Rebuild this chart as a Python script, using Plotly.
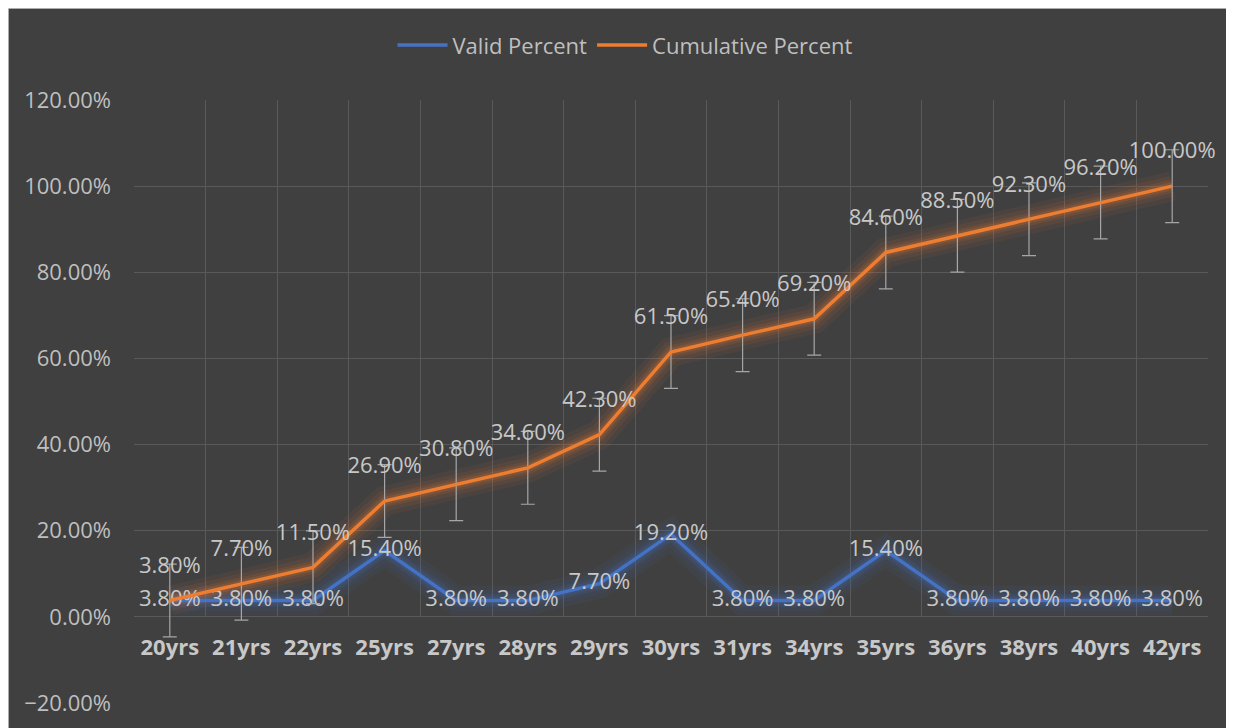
import plotly.graph_objects as go

# data
ages = ["20yrs", "21yrs", "22yrs", "25yrs", "27yrs", "28yrs", "29yrs", "30yrs",
        "31yrs", "34yrs", "35yrs", "36yrs", "38yrs", "40yrs", "42yrs"]
valid_pct = [0.038, 0.038, 0.038, 0.154, 0.038, 0.038, 0.077, 0.192,
             0.038, 0.038, 0.154, 0.038, 0.038, 0.038, 0.038]
cumulative_pct = [0.038, 0.077, 0.115, 0.269, 0.308, 0.346, 0.423, 0.615,
                  0.654, 0.692, 0.846, 0.885, 0.923, 0.962, 1.000]
cumulative_err = 0.0845
y_tick_vals = [-0.2, 0.0, 0.2, 0.4, 0.6, 0.8, 1.0, 1.2]
grid_vals = [0.0, 0.2, 0.4, 0.6, 0.8, 1.0, 1.2]

BLUE = "#4472C4"
ORANGE = "#ED7D31"
BG = "#404040"
GRID = "#595959"
TXT = "#bfbfbf"
LBL = "#c8c8c8"
FONT = "Open Sans"
FS = 22

W, H = 1234, 728
# the page adds an 8px body margin, so the figure sits 8px right/down
M = dict(l=126, r=34, t=92, b=33)
y_range = [-0.2, 1.2]
plot_h = H - M["t"] - M["b"]
plot_w = W - M["l"] - M["r"]
zero_pos = (0 - y_range[0]) / (y_range[1] - y_range[0])
grid_len = round(plot_h * (1 - zero_pos))

fig = go.Figure()

# soft glow under the lines (drawn on the lower y axis)
for vals, rgb in ((valid_pct, "68,114,196"), (cumulative_pct, "237,125,49")):
    for width, alpha in ((30, 0.06), (21, 0.08), (13, 0.12), (8, 0.16)):
        fig.add_trace(go.Scatter(
            x=ages, y=vals, mode="lines", yaxis="y",
            line=dict(color=f"rgba({rgb},{alpha})", width=width),
            showlegend=False, hoverinfo="skip",
        ))

fig.add_trace(go.Scatter(
    x=ages, y=valid_pct, mode="lines+text", name="Valid Percent", yaxis="y2",
    line=dict(color=BLUE, width=3.5), cliponaxis=False,
    texttemplate="%{y:.2%}", textposition="middle center",
    textfont=dict(color=LBL, size=FS, family=FONT),
))
fig.add_trace(go.Scatter(
    x=ages, y=cumulative_pct, mode="lines+markers+text", name="Cumulative Percent",
    yaxis="y2", cliponaxis=False,
    line=dict(color=ORANGE, width=3.5),
    marker=dict(size=34, color="rgba(0,0,0,0)", line=dict(width=0)),
    texttemplate="%{y:.2%}", textposition="top center",
    textfont=dict(color=LBL, size=FS, family=FONT),
    error_y=dict(type="constant", value=cumulative_err, color="#a6a6a6",
                 thickness=1.2, width=7),
))

# thin light frame around the chart
fig.add_shape(
    type="rect", xref="paper", yref="paper", layer="below",
    x0=(0 - M["l"]) / plot_w, x1=(W + 20 - M["l"]) / plot_w,
    y0=-(M["b"] + 20) / plot_h, y1=1 + M["t"] / plot_h,
    fillcolor="rgba(0,0,0,0)", line=dict(color="#d0d0d0", width=1.5),
)

fig.update_layout(
    width=W, height=H, margin=M,
    paper_bgcolor=BG, plot_bgcolor="rgba(0,0,0,0)",
    font=dict(family=FONT, color=TXT, size=FS),
    showlegend=True,
    legend=dict(orientation="h", x=(617 - M["l"]) / plot_w, xanchor="center",
                y=1.091, yanchor="middle",
                font=dict(size=FS, color=TXT), bgcolor="rgba(0,0,0,0)",
                itemwidth=50, traceorder="normal"),
    xaxis=dict(
        type="category", range=[-0.5, len(ages) - 0.5],
        anchor="free", position=zero_pos, automargin=False, tickangle=0,
        tickson="boundaries", ticks="inside", ticklen=grid_len, tickwidth=1,
        tickcolor=GRID, showgrid=False, showline=False, zeroline=False,
        layer="below traces", ticklabelstandoff=15,
        tickfont=dict(size=FS, color=LBL, weight="bold"),
    ),
    yaxis=dict(
        range=y_range, tickvals=grid_vals, showticklabels=False, automargin=False,
        showgrid=True, gridcolor=GRID, gridwidth=1, zeroline=False,
    ),
    yaxis2=dict(
        range=y_range, overlaying="y", side="left", tickvals=y_tick_vals,
        tickformat=".2%", showgrid=False, zeroline=False, automargin=False,
        ticklabelstandoff=22, tickfont=dict(size=FS, color=TXT),
    ),
)

fig.write_html("out.html")
